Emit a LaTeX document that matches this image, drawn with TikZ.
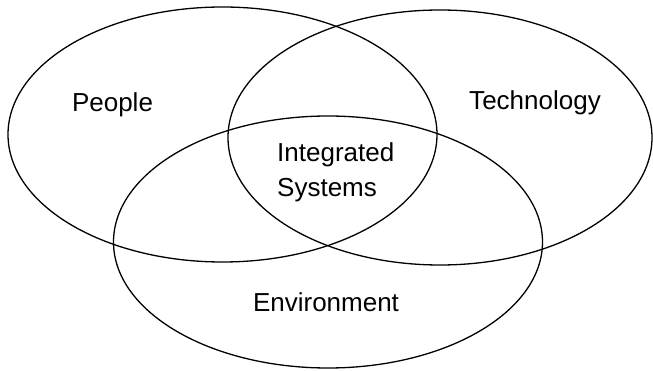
\documentclass[tikz,border=0pt]{standalone}
\usepackage{fontspec}
\setmainfont{Liberation Sans}
\usetikzlibrary{shapes.geometric}
\begin{document}
\begin{tikzpicture}[x=1pt,y=-1pt,
  setshape/.style={draw=black,line width=1.3pt,ellipse,inner sep=0pt,outer sep=0pt},
  lbl/.style={inner sep=0pt,font=\fontsize{26}{35}\selectfont}]
\useasboundingbox[fill=white] (0,0) rectangle (653,371);
% the three overlapping sets
\node[setshape,minimum width=429pt,minimum height=255pt] (people) at (222.5,134.5) {};
\node[setshape,minimum width=424pt,minimum height=255pt] (tech) at (440,137.5) {};
\node[setshape,minimum width=429pt,minimum height=252pt] (env) at (328,242) {};
% set labels
\node[lbl,anchor=base] (lpeople) at (112.5,112) {People};
\node[lbl,anchor=base] (ltech) at (535,110) {Technology};
\node[lbl,anchor=base] (lenv) at (326,312) {Environment};
% the base anchor of a two-line node sits on its last line
\node[lbl,anchor=base west,align=left] (lcore) at (277,197) {Integrated\\Systems};
\end{tikzpicture}
\end{document}
